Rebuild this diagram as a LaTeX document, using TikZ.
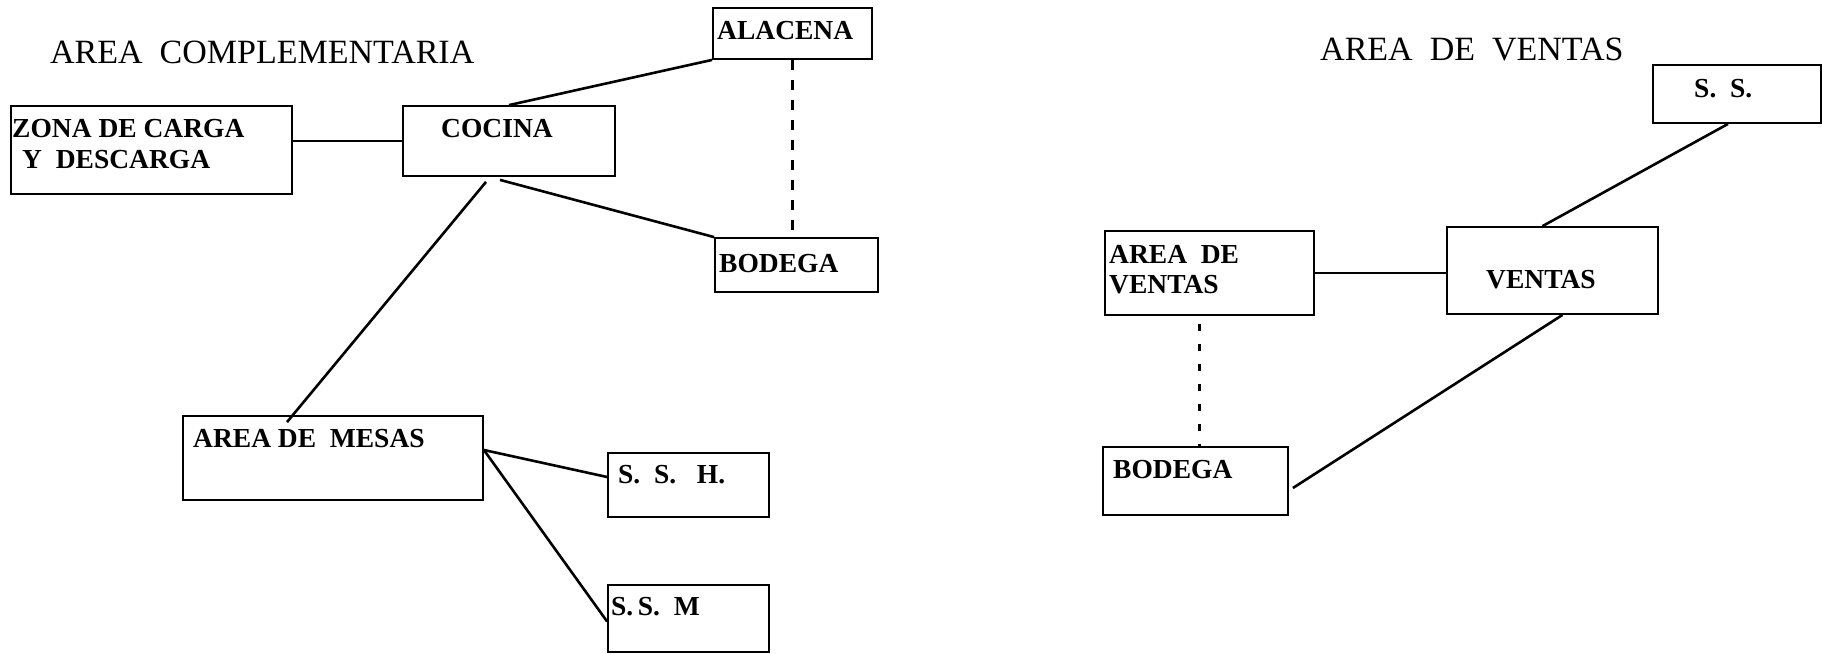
\documentclass[tikz,border=0pt]{standalone}
\usepackage{fontspec}
\setmainfont{Liberation Serif}
\usetikzlibrary{calc}
\tikzset{
  room/.style={draw, line width=1.8pt, inner sep=0pt, rectangle},
  lbl/.style={inner sep=0pt, anchor=base west, font=\fontsize{27.5}{31}\selectfont\bfseries},
  ttl/.style={inner sep=0pt, anchor=base west, font=\fontsize{34}{38}\selectfont},
  conn/.style={line width=2.6pt},
  dashconn/.style={line width=2.8pt, dash pattern=on 10pt off 10pt},
  dotconn/.style={line width=2.2pt, dash pattern=on 7pt off 13pt}
}
\newcommand{\roomat}[5]{%
  \node[room, minimum width={#4-#2}, minimum height={#5-#3}] (#1) at ({(#2+#4)/2},{(#3+#5)/2}) {};}
\begin{document}
\begin{tikzpicture}[x=1pt,y=-1pt]
\useasboundingbox (0,0) rectangle (1822,653);
% titles
\node[ttl] (t1) at (50,63) {AREA\ \ COMPLEMENTARIA};
\node[ttl] (t2) at (1320,60) {AREA\ \ DE\ \ VENTAS};
% boxes
\roomat{zona}{11}{106}{292}{194}
\roomat{cocina}{403}{106}{615}{176}
\roomat{alacena}{713}{8}{872}{59}
\roomat{bodegaA}{715}{238}{878}{292}
\roomat{mesas}{183}{416}{483}{500}
\roomat{ssh}{608}{453}{769}{517}
\roomat{ssm}{608}{585}{769}{652}
\roomat{ss}{1653}{65}{1821}{123}
\roomat{areav}{1105}{231}{1314}{315}
\roomat{ventas}{1447}{227}{1658}{314}
\roomat{bodegaB}{1103}{447}{1288}{515}
% labels
\node[lbl] (lz1) at (12,137) {ZONA DE CARGA};
\node[lbl] (lz2) at (22,168) {Y\ \ DESCARGA};
\node[lbl] (lc) at (441,137) {COCINA};
\node[lbl] (la) at (717,39) {ALACENA};
\node[lbl] (lb) at (719,272) {BODEGA};
\node[lbl] (lm) at (193,447) {AREA DE\ \ MESAS};
\node[lbl] (lh) at (618,483) {S.\ \ S.\ \ \ H.};
\node[lbl] (lsm) at (611,615) {S.\,S.\ \ M};
\node[lbl] (ls) at (1694,97) {S.\ \ S.};
\node[lbl] (lav1) at (1109,263) {AREA\ \ DE};
\node[lbl] (lav2) at (1109,293) {VENTAS};
\node[lbl] (lv) at (1486,288) {VENTAS};
\node[lbl] (lb2) at (1113,478) {BODEGA};
% connectors left
\draw[conn] (cocina.west -| zona.east) -- (cocina.west);
\draw[conn] (cocina.north) -- (alacena.south west);
\draw[dashconn] (alacena.south) -- (alacena.south |- bodegaA.north);
\draw[conn] ($(cocina.south)+(-9,3)$) -- (bodegaA.north west);
\draw[conn] ($(cocina.south)+(-23,5)$) -- ($(mesas.north)+(-46,7)$);
\draw[conn] ($(mesas.east)+(0,-8)$) -- ($(ssh.west)+(0,-8)$);
\draw[conn] ($(mesas.east)+(0,-8)$) -- ($(ssm.west)+(0,3)$);
% connectors right
\draw[conn] (areav.east) -- (areav.east -| ventas.west);
\draw[conn] ($(ss.south)+(-9,0)$) -- ($(ventas.north)+(-10,0)$);
\draw[conn] ($(ventas.south)+(10,0)$) -- ($(bodegaB.east)+(4,7)$);
\coordinate (dtop) at ($(areav.south)+(-10,8)$);
\draw[dotconn] (dtop) -- (dtop |- bodegaB.north);
\end{tikzpicture}
\end{document}
